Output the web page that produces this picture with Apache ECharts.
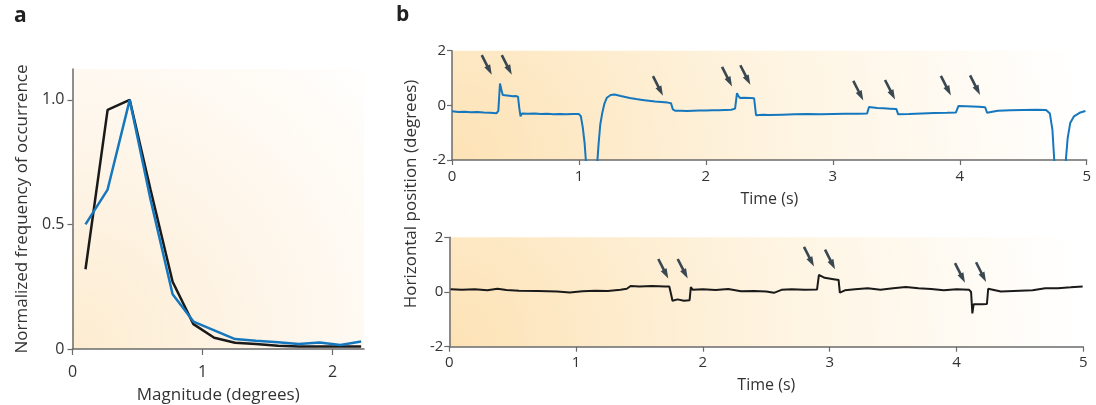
<!DOCTYPE html>
<html>
<head>
<meta charset="utf-8">
<script src="https://cdn.jsdelivr.net/npm/echarts@6/dist/echarts.min.js"></script>
<style>
  html, body { margin: 0; padding: 0; background: #fff; }
  #chart { width: 1096px; height: 405px; }
</style>
</head>
<body>
<div id="chart"></div>
<script>
// panel a: histogram bins (degrees) and normalized frequencies
const magBins = [0.10, 0.27, 0.44, 0.60, 0.77, 0.93, 1.09, 1.25, 1.41, 1.58, 1.74, 1.90, 2.06, 2.22];
const blackFreq = [0.32, 0.96, 1.0, 0.64, 0.27, 0.10, 0.045, 0.025, 0.02, 0.013, 0.01, 0.01, 0.01, 0.01];
const blueFreq = [0.50, 0.64, 1.0, 0.60, 0.22, 0.11, 0.075, 0.04, 0.033, 0.027, 0.02, 0.026, 0.016, 0.03];
const magTicks = [0, 1, 2];
const freqTicks = [0, 0.5, 1.0];

// panel b: eye position traces [time (s), position (degrees)]
const topTrace = [
  [0, -0.22], [0.05, -0.24], [0.1, -0.23], [0.15, -0.25], [0.2, -0.24], [0.25, -0.26], [0.3, -0.27], [0.35, -0.29],
  [0.365, -0.2], [0.378, 0.8], [0.39, 0.55], [0.4, 0.38], [0.45, 0.35], [0.48, 0.33], [0.5, 0.34], [0.52, 0.32],
  [0.53, -0.1], [0.54, -0.4], [0.55, -0.3], [0.6, -0.31], [0.65, -0.3], [0.7, -0.32], [0.75, -0.31], [0.8, -0.33],
  [0.85, -0.32], [0.9, -0.33], [0.95, -0.32], [1.0, -0.32], [1.015, -0.4], [1.03, -0.8], [1.045, -1.4], [1.055, -2.05],
  [1.07, -3], [1.13, -3], [1.145, -2.05], [1.155, -1.4], [1.168, -0.7], [1.185, -0.25], [1.2, 0.05], [1.22, 0.28],
  [1.25, 0.38], [1.28, 0.4], [1.33, 0.34], [1.4, 0.27], [1.45, 0.23], [1.5, 0.2], [1.55, 0.17], [1.6, 0.14],
  [1.65, 0.12], [1.7, 0.1], [1.725, 0.08], [1.74, -0.15], [1.76, -0.2], [1.8, -0.2], [1.85, -0.21], [1.9, -0.2],
  [1.95, -0.19], [2.0, -0.19], [2.05, -0.18], [2.1, -0.18], [2.15, -0.17], [2.2, -0.16], [2.23, -0.12], [2.245, 0.45],
  [2.255, 0.35], [2.27, 0.27], [2.3, 0.28], [2.35, 0.27], [2.38, 0.26], [2.395, -0.36], [2.45, -0.34], [2.5, -0.35],
  [2.6, -0.34], [2.7, -0.33], [2.8, -0.32], [2.9, -0.33], [3.0, -0.32], [3.1, -0.31], [3.2, -0.31], [3.27, -0.3],
  [3.285, -0.06], [3.35, -0.1], [3.4, -0.11], [3.45, -0.12], [3.5, -0.13], [3.515, -0.33], [3.6, -0.32], [3.7, -0.3],
  [3.8, -0.28], [3.9, -0.27], [3.97, -0.26], [3.99, -0.02], [4.05, -0.03], [4.1, -0.04], [4.15, -0.05], [4.2, -0.07],
  [4.215, -0.27], [4.3, -0.2], [4.4, -0.18], [4.5, -0.17], [4.6, -0.16], [4.68, -0.17], [4.71, -0.3], [4.73, -0.9],
  [4.745, -2.05], [4.78, -3.2], [4.82, -3.2], [4.835, -2.05], [4.85, -1.2], [4.87, -0.65], [4.9, -0.4], [4.95, -0.26],
  [4.99, -0.21]
];
const bottomTrace = [
  [0.01, 0.1], [0.1, 0.08], [0.2, 0.1], [0.3, 0.06], [0.38, 0.12], [0.45, 0.07], [0.55, 0.05], [0.7, 0.04],
  [0.85, 0.02], [0.95, -0.02], [1.05, 0.03], [1.15, 0.05], [1.25, 0.04], [1.35, 0.08], [1.4, 0.12], [1.43, 0.22],
  [1.5, 0.2], [1.6, 0.22], [1.7, 0.2], [1.735, 0.2], [1.75, -0.1], [1.76, -0.32], [1.8, -0.27], [1.85, -0.32],
  [1.895, -0.3], [1.905, 0.18], [1.92, 0.08], [2.0, 0.1], [2.1, 0.07], [2.2, 0.11], [2.3, 0.03], [2.4, 0.04],
  [2.5, 0.02], [2.56, -0.03], [2.62, 0.08], [2.7, 0.1], [2.8, 0.08], [2.9, 0.09], [2.915, 0.63], [2.93, 0.58],
  [2.96, 0.52], [3.03, 0.47], [3.07, 0.44], [3.08, -0.02], [3.09, -0.06], [3.12, 0.06], [3.2, 0.1], [3.3, 0.14],
  [3.4, 0.08], [3.5, 0.14], [3.6, 0.18], [3.7, 0.14], [3.8, 0.11], [3.9, 0.06], [4.0, 0.1], [4.1, 0.08],
  [4.115, 0.0], [4.125, -0.78], [4.135, -0.45], [4.2, -0.45], [4.24, -0.44], [4.25, 0.12], [4.26, 0.06], [4.35, 0.02],
  [4.5, 0.05], [4.6, 0.06], [4.7, 0.14], [4.8, 0.14], [4.9, 0.17], [4.995, 0.2]
];
// arrow tips (time, position)
const topArrows = [[0.313, 1.12], [0.471, 1.12], [1.662, 0.35], [2.206, 0.69], [2.35, 0.75], [3.24, 0.18], [3.49, 0.21], [3.93, 0.36], [4.16, 0.38]];
const bottomArrows = [[1.727, 0.49], [1.88, 0.49], [2.876, 0.93], [3.042, 0.83], [4.067, 0.34], [4.233, 0.37]];
const timeTicks = [0, 1, 2, 3, 4, 5];
const posTicks = [-2, 0, 2];

const FONT = 'Open Sans';
const AXIS_COLOR = '#6b6b6b';
const TEXT_COLOR = '#333';
const BLUE = '#1577bd';
const ARROW_COLOR = '#3a4852';
const ARROW_ROT = 27;
// 箭头尖端对准数据点
const tipDx = 11 * Math.sin(ARROW_ROT * Math.PI / 180);
const tipDy = 11 * Math.cos(ARROW_ROT * Math.PI / 180);

// 左下角偏橙色、向右上渐变为白色
function bg(c0, c1, r) {
  return new echarts.graphic.RadialGradient(0, 1, r, [
    { offset: 0, color: c0 },
    { offset: 0.45, color: c1 },
    { offset: 1, color: '#ffffff' }
  ]);
}

function valAxis(idx, min, max, ticks, fontSize, fmt) {
  return {
    type: 'value', gridIndex: idx, min: min, max: max,
    axisLine: { show: true, onZero: false, lineStyle: { color: AXIS_COLOR, width: 1.5 } },
    axisTick: { show: true, customValues: ticks, length: 5, lineStyle: { color: AXIS_COLOR, width: 1.2 } },
    axisLabel: { customValues: ticks, color: TEXT_COLOR, fontFamily: FONT, fontSize: fontSize, formatter: fmt },
    splitLine: { show: false }
  };
}

const chart = echarts.init(document.getElementById('chart'));
const xa = valAxis(0, 0, 2.242, magTicks, 16);
xa.name = 'Magnitude (degrees)';
xa.nameLocation = 'middle';
xa.nameGap = 38;
xa.nameTextStyle = { color: TEXT_COLOR, fontFamily: FONT, fontSize: 17 };
xa.axisLabel.margin = 15;
xa.axisTick.length = 6;
const ya = valAxis(0, 0, 1.124, freqTicks, 16, v => (v === 0 ? '0' : v.toFixed(1)));
ya.name = 'Normalized frequency of occurrence';
ya.nameLocation = 'middle';
ya.nameGap = 42;
ya.nameTextStyle = { color: TEXT_COLOR, fontFamily: FONT, fontSize: 17 };

function timeAxis(idx) {
  const a = valAxis(idx, 0, 5, timeTicks, 15);
  a.interval = 1;
  a.name = 'Time (s)';
  a.nameLocation = 'middle';
  a.nameGap = 31;
  a.nameTextStyle = { color: TEXT_COLOR, fontFamily: FONT, fontSize: 16 };
  a.axisLabel.margin = 9;
  return a;
}
function posAxis(idx) {
  const a = valAxis(idx, -2, 2, posTicks, 15);
  a.interval = 2;
  a.axisLabel.margin = 6;
  return a;
}

function arrowSeries(idx, data) {
  return {
    type: 'scatter', xAxisIndex: idx, yAxisIndex: idx, data: data,
    symbol: 'path://M3.6,0 L8.4,0 L8.4,12 L12,12 L6,22 L0,12 L3.6,12 Z',
    symbolSize: [12, 22], symbolKeepAspect: true, symbolRotate: ARROW_ROT,
    symbolOffset: [-tipDx, -tipDy],
    itemStyle: { color: ARROW_COLOR, opacity: 1 }, silent: true, z: 5
  };
}

const option = {
  animation: false,
  grid: [
    { left: 72.5, top: 69, width: 291.5, height: 280, outerBoundsMode: 'none', containLabel: false,
      show: true, borderWidth: 0, backgroundColor: bg('#fdecd0', '#fef5e8', 1.5) },
    { left: 452, top: 50.7, width: 634.7, height: 109.3, outerBoundsMode: 'none', containLabel: false,
      show: true, borderWidth: 0, backgroundColor: bg('#fde2b5', '#fef2dc', 5.8) },
    { left: 449.3, top: 237.3, width: 634, height: 109.4, outerBoundsMode: 'none', containLabel: false,
      show: true, borderWidth: 0, backgroundColor: bg('#fde2b5', '#fef2dc', 5.8) }
  ],
  xAxis: [xa, timeAxis(1), timeAxis(2)],
  yAxis: [ya, posAxis(1), posAxis(2)],
  graphic: [
    { type: 'text', left: 14, top: 6, style: { text: 'a', fontFamily: FONT, fontWeight: 'bold', fontSize: 21, fill: '#222' } },
    { type: 'text', left: 396, top: 5, style: { text: 'b', fontFamily: FONT, fontWeight: 'bold', fontSize: 21, fill: '#222' } },
    { type: 'text', x: 411, y: 194, rotation: Math.PI / 2,
      style: { text: 'Horizontal position (degrees)', fontFamily: FONT, fontSize: 17, fill: TEXT_COLOR, align: 'center', verticalAlign: 'middle' } }
  ],
  series: [
    { type: 'line', xAxisIndex: 0, yAxisIndex: 0, data: magBins.map((m, i) => [m, blackFreq[i]]),
      showSymbol: false, lineStyle: { color: '#1a1a1a', width: 2.5 }, z: 3 },
    { type: 'line', xAxisIndex: 0, yAxisIndex: 0, data: magBins.map((m, i) => [m, blueFreq[i]]),
      showSymbol: false, lineStyle: { color: BLUE, width: 2.5 }, z: 4 },
    { type: 'line', xAxisIndex: 1, yAxisIndex: 1, data: topTrace, clip: true,
      showSymbol: false, lineStyle: { color: BLUE, width: 2 } },
    { type: 'line', xAxisIndex: 2, yAxisIndex: 2, data: bottomTrace, clip: true,
      showSymbol: false, lineStyle: { color: '#1a1a1a', width: 2 } },
    arrowSeries(1, topArrows),
    arrowSeries(2, bottomArrows)
  ]
};
chart.setOption(option);
</script>
</body>
</html>
